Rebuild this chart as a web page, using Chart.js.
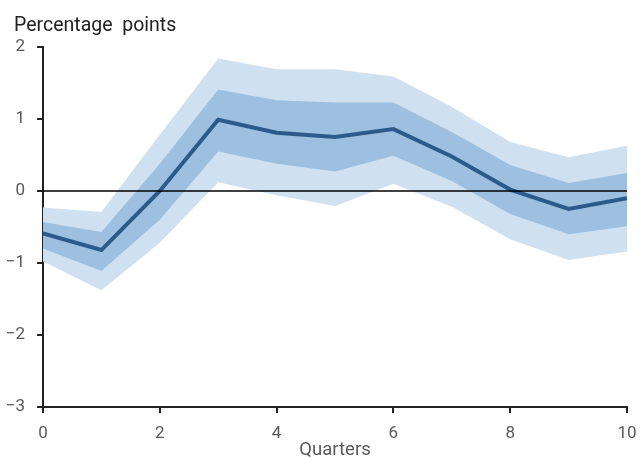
<!DOCTYPE html>
<html>
<head>
<meta charset="utf-8">
<script src="https://cdn.jsdelivr.net/npm/chart.js@4"></script>
<style>
  html, body { margin: 0; padding: 0; background: #fff; }
  #wrap { width: 640px; height: 458px; }
</style>
</head>
<body>
<div id="wrap"><canvas id="c" width="640" height="458"></canvas></div>
<script>
const quarters   = [0, 1, 2, 3, 4, 5, 6, 7, 8, 9, 10];
const central    = [-0.59, -0.82, 0.00, 0.99, 0.81, 0.75, 0.86, 0.48, 0.02, -0.25, -0.10];
const innerUpper = [-0.43, -0.57, 0.38, 1.41, 1.26, 1.23, 1.23, 0.82, 0.36, 0.11, 0.25];
const innerLower = [-0.80, -1.11, -0.40, 0.55, 0.38, 0.27, 0.49, 0.14, -0.32, -0.60, -0.49];
const outerUpper = [-0.23, -0.29, 0.78, 1.84, 1.69, 1.69, 1.59, 1.17, 0.68, 0.47, 0.63];
const outerLower = [-0.98, -1.38, -0.72, 0.12, -0.06, -0.21, 0.10, -0.22, -0.67, -0.96, -0.84];
const zeroLine   = [0, 0];
const zeroX      = [0, 10];
const unitLabel  = 'Percentage  points';
const xTitle     = 'Quarters';

const pts = (ys) => ys.map((y, i) => ({ x: quarters[i], y }));

const LIGHT = '#cfe0f0';
const DARK  = '#9dc0e0';
const LINE  = '#2c5b8b';
const AXIS  = '#222222';
const TICK  = '#595959';

const band = (data, fill, color) => ({
  data: pts(data), fill: fill, backgroundColor: color, borderWidth: 0,
  pointRadius: 0, tension: 0, order: 1
});

// Unit label drawn as canvas text at the top-left corner
const unitLabelPlugin = {
  id: 'unitLabel',
  afterDraw(chart) {
    const ctx = chart.ctx;
    ctx.save();
    ctx.font = 'normal 19.5px Roboto';
    ctx.fillStyle = '#222';
    ctx.textAlign = 'left';
    ctx.textBaseline = 'alphabetic';
    ctx.fillText(unitLabel, 14, 30.7);
    ctx.restore();
  }
};

new Chart(document.getElementById('c'), {
  type: 'line',
  data: {
    datasets: [
      { data: zeroX.map((x, i) => ({ x, y: zeroLine[i] })), borderColor: '#000', borderWidth: 1.5,
        pointRadius: 0, fill: false, order: -1 },
      { data: pts(central), borderColor: LINE, borderWidth: 4, pointRadius: 0, fill: false,
        tension: 0, order: 0, borderJoinStyle: 'miter' },
      band(innerUpper, '+1', DARK),
      band(innerLower, false, DARK),
      band(outerUpper, '+1', LIGHT),
      band(outerLower, false, LIGHT)
    ]
  },
  plugins: [unitLabelPlugin],
  options: {
    responsive: false,
    animation: false,
    events: [],
    layout: { padding: { left: 4, right: 0, top: 47, bottom: 0 } },
    plugins: {
      legend: { display: false },
      tooltip: { enabled: false },
      title: { display: false }
    },
    scales: {
      x: {
        type: 'linear', min: 0, max: 10,
        afterFit: (s) => { s.height = 51; s.paddingRight = 13; s.paddingLeft = 0; },
        border: { display: true, color: AXIS, width: 2 },
        grid: { display: true, drawOnChartArea: false, drawTicks: true, tickLength: 6, color: AXIS, lineWidth: 2 },
        ticks: { stepSize: 2, color: TICK, padding: 11, maxRotation: 0,
                 font: { family: 'Roboto', size: 17 } },
        title: { display: true, text: xTitle, color: TICK,
                 font: { family: 'Roboto', size: 18.5, lineHeight: 1.2 },
                 padding: { top: 0, bottom: -3.5 } }
      },
      y: {
        type: 'linear', min: -3, max: 2,
        afterFit: (s) => { s.width = 39; s.paddingTop = 0; s.paddingBottom = 0; },
        border: { display: true, color: AXIS, width: 2 },
        grid: { display: true, drawOnChartArea: false, drawTicks: true, tickLength: 6, color: AXIS, lineWidth: 2 },
        ticks: { stepSize: 1, color: TICK, padding: 12,
                 font: { family: 'Roboto', size: 17 },
                 callback: (v) => String(v).replace('-', '\u2212') }
      }
    }
  }
});
</script>
</body>
</html>
